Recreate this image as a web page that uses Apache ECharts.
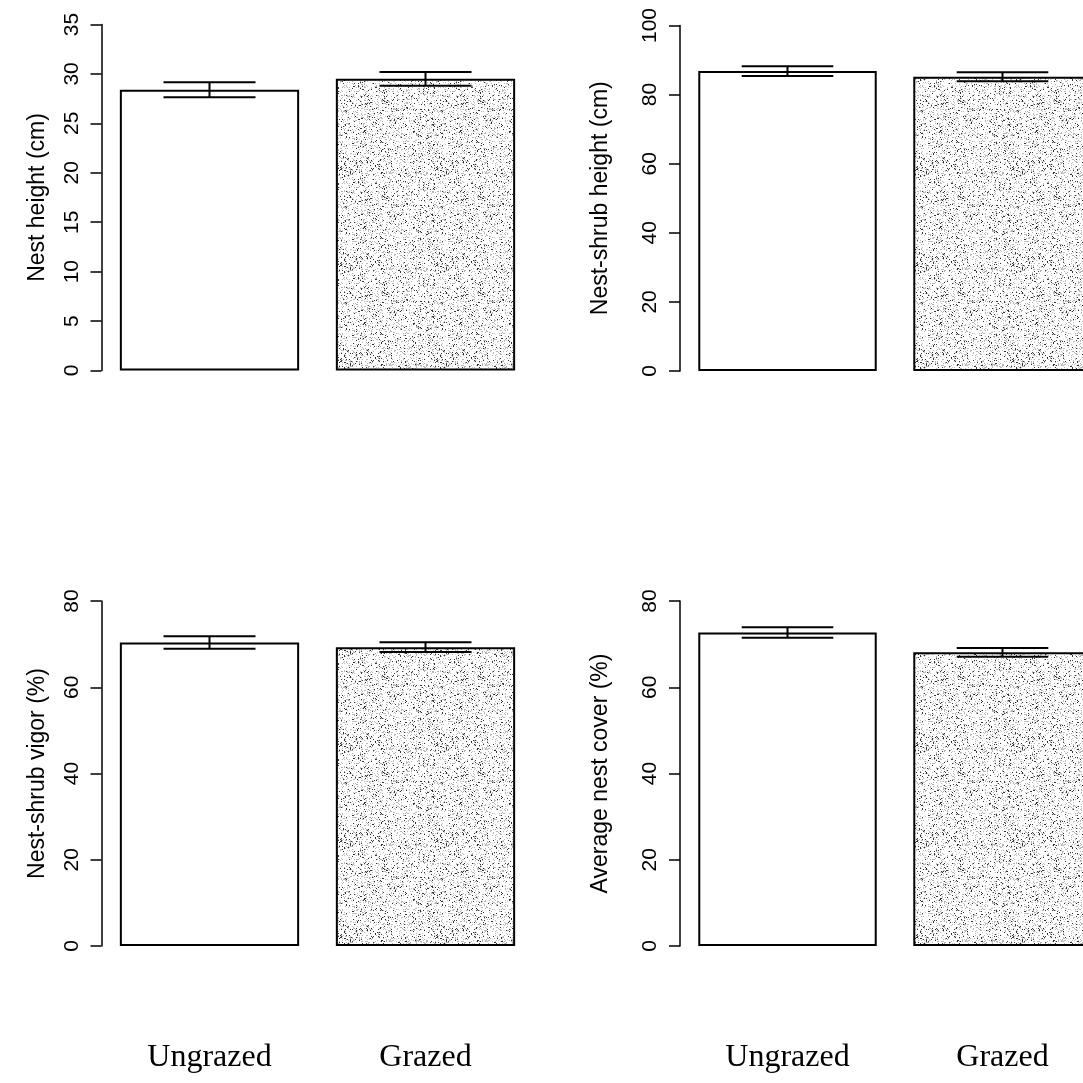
<!DOCTYPE html>
<html>
<head>
<meta charset="utf-8">
<title>Nest site characteristics, grazed vs ungrazed</title>
<script src="https://cdn.jsdelivr.net/npm/echarts@6/dist/echarts.min.js"></script>
<style>
  html, body { margin: 0; padding: 0; background: #fff; }
  #chart { width: 1083px; height: 1083px; }
</style>
</head>
<body>
<div id="chart"></div>
<script>
// Treatment groups
const categories = ['Ungrazed', 'Grazed'];

// Means and standard errors for each nest-site variable
const nestHeightMean = [28.4, 29.5];
const nestHeightSE = [0.75, 0.7];
const shrubHeightMean = [86.8, 85.2];
const shrubHeightSE = [1.4, 1.3];
const shrubVigorMean = [70.4, 69.3];
const shrubVigorSE = [1.45, 1.15];
const nestCoverMean = [72.7, 68.1];
const nestCoverSE = [1.2, 1.0];

// Axis titles and ranges
const yTitles = ['Nest height (cm)', 'Nest-shrub height (cm)', 'Nest-shrub vigor (%)', 'Average nest cover (%)'];
const yMax = [35, 100, 80, 80];
const yInterval = [5, 20, 20, 20];

const panels = [
  { mean: nestHeightMean, se: nestHeightSE },
  { mean: shrubHeightMean, se: shrubHeightSE },
  { mean: shrubVigorMean, se: shrubVigorSE },
  { mean: nestCoverMean, se: nestCoverSE }
];

// Stippled fill for the grazed bars: fine black and grey specks on white,
// placed by a fixed hash so the texture is identical on every render
function speckHash(i, j) {
  const s = Math.sin(i * 12.9898 + j * 78.233) * 43758.5453;
  return s - Math.floor(s);
}
function makeStipple() {
  const n = 96;
  const c = document.createElement('canvas');
  c.width = n; c.height = n;
  const g = c.getContext('2d');
  g.fillStyle = '#ffffff';
  g.fillRect(0, 0, n, n);
  for (let i = 0; i < n; i++) {
    for (let j = 0; j < n; j++) {
      const h = speckHash(i, j);
      if (h < 0.06) {
        g.fillStyle = '#333333';
        g.fillRect(i, j, 1, 1);
      } else if (h < 0.22) {
        g.fillStyle = '#b8b8b8';
        g.fillRect(i, j, 1, 1);
      }
    }
  }
  return c;
}
const stipple = makeStipple();

const gridBoxes = [
  { left: 101.5, top: 24.5, width: 432, height: 346 },
  { left: 680, top: 25.5, width: 430, height: 345.5 },
  { left: 101.5, top: 601, width: 432, height: 345 },
  { left: 680, top: 601, width: 430, height: 345 }
];
const nameGaps = [52, 68, 52, 68];

const grid = [], xAxis = [], yAxis = [], series = [];

panels.forEach((p, k) => {
  grid.push(Object.assign({ containLabel: false, outerBoundsMode: 'none' }, gridBoxes[k]));
  const bottomRow = k >= 2;
  xAxis.push({
    type: 'category',
    gridIndex: k,
    data: categories,
    axisLine: { show: false },
    axisTick: { show: false },
    axisLabel: {
      show: bottomRow,
      margin: 96,
      color: '#000',
      fontFamily: '"Liberation Serif", "Times New Roman", serif',
      fontSize: 32
    }
  });
  yAxis.push({
    type: 'value',
    gridIndex: k,
    min: 0,
    max: yMax[k],
    interval: yInterval[k],
    name: yTitles[k],
    nameLocation: 'middle',
    nameRotate: 90,
    nameGap: nameGaps[k],
    nameTextStyle: {
      color: '#000',
      fontFamily: '"Liberation Sans", Arial, sans-serif',
      fontSize: 23
    },
    splitLine: { show: false },
    axisLine: { show: true, lineStyle: { color: '#000', width: 1.5 } },
    axisTick: { show: true, length: 11, lineStyle: { color: '#000', width: 1.5 } },
    axisLabel: {
      rotate: 90,
      margin: 19,
      color: '#000',
      fontFamily: '"Liberation Sans", Arial, sans-serif',
      fontSize: 21
    }
  });
  series.push({
    type: 'bar',
    xAxisIndex: k,
    yAxisIndex: k,
    barWidth: '83%',
    data: p.mean.map((v, i) => ({
      value: v,
      itemStyle: {
        color: i === 0 ? '#ffffff' : { image: stipple, repeat: 'repeat' },
        borderColor: '#000',
        borderWidth: 2
      }
    })),
    silent: true
  });
  series.push({
    type: 'custom',
    xAxisIndex: k,
    yAxisIndex: k,
    z: 5,
    clip: false,
    silent: true,
    data: p.mean.map((v, i) => [i, v - p.se[i], v + p.se[i]]),
    renderItem: function (params, api) {
      const x = api.value(0);
      const lo = api.coord([x, api.value(1)]);
      const hi = api.coord([x, api.value(2)]);
      const half = api.size([1, 0])[0] * 0.213;
      const style = { stroke: '#000', lineWidth: 2 };
      return {
        type: 'group',
        children: [
          { type: 'line', shape: { x1: lo[0], y1: lo[1], x2: hi[0], y2: hi[1] }, style: style },
          { type: 'line', shape: { x1: lo[0] - half, y1: lo[1], x2: lo[0] + half, y2: lo[1] }, style: style },
          { type: 'line', shape: { x1: hi[0] - half, y1: hi[1], x2: hi[0] + half, y2: hi[1] }, style: style }
        ]
      };
    }
  });
});

const chart = echarts.init(document.getElementById('chart'), null, { renderer: 'canvas' });
chart.setOption({
  backgroundColor: '#ffffff',
  animation: false,
  grid: grid,
  xAxis: xAxis,
  yAxis: yAxis,
  series: series
});
</script>
</body>
</html>
